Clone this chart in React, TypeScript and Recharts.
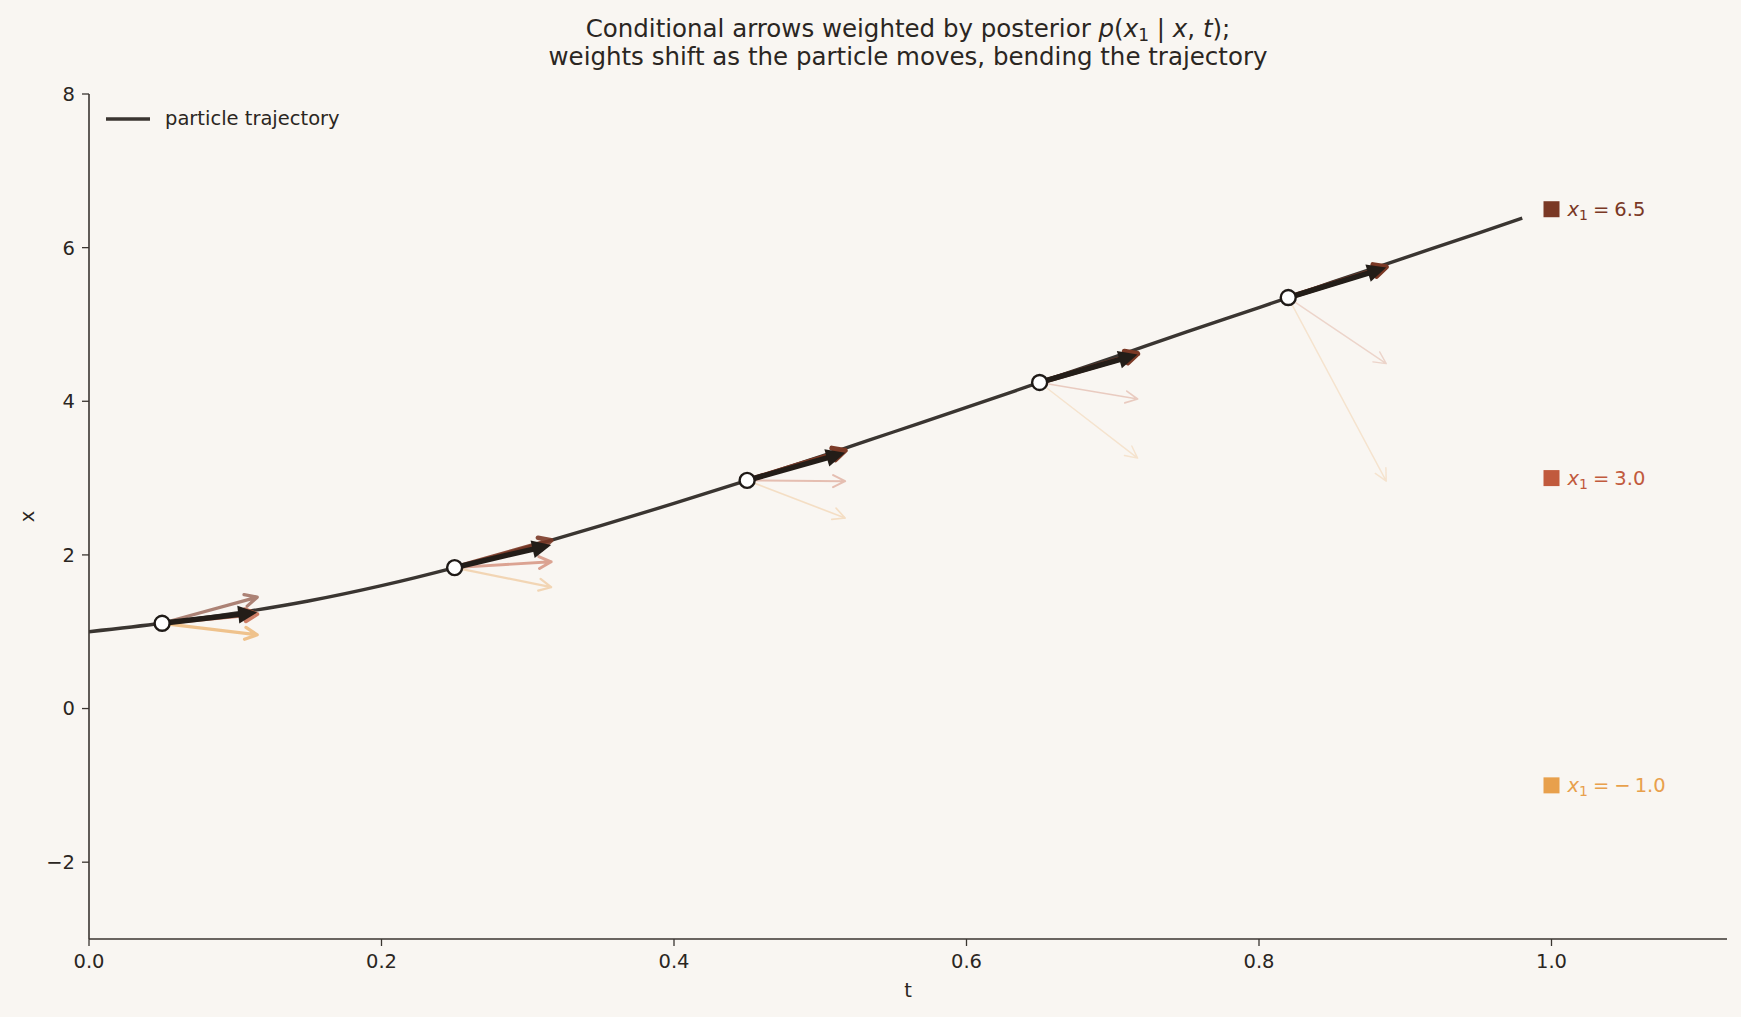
import React from 'react'
import { ComposedChart, Line, XAxis, YAxis, ReferenceLine, ReferenceDot, Legend } from 'recharts'

// particle trajectory x(t)
const trajT = [0, 0.05, 0.1, 0.15, 0.2, 0.25, 0.3, 0.35, 0.4, 0.45, 0.5, 0.55, 0.6, 0.65, 0.7, 0.75, 0.8, 0.82, 0.85, 0.9, 0.95, 0.98]
const trajX = [1.0, 1.11, 1.24, 1.4, 1.6, 1.835, 2.1, 2.38, 2.67, 2.97, 3.28, 3.6, 3.92, 4.245, 4.57, 4.9, 5.22, 5.35, 5.55, 5.87, 6.19, 6.385]

// sample points where arrows are drawn
const sampleT = [0.05, 0.25, 0.45, 0.65, 0.82]
const sampleX = [1.11, 1.835, 2.97, 4.245, 5.35]
const tipT = [0.115, 0.316, 0.517, 0.717, 0.887]

// arrow tips, one list per endpoint x1
const tipHigh = [1.45, 2.19, 3.36, 4.62, 5.75]
const tipMid = [1.23, 1.91, 2.96, 4.03, 4.49]
const tipLow = [0.96, 1.58, 2.48, 3.26, 2.96]
const tipMean = [1.25, 2.13, 3.33, 4.61, 5.74]

// posterior weights p(x1 | x, t)
const weightHigh = [0.25, 0.75, 0.96, 0.99, 1.0]
const weightMid = [0.5, 0.16, 0.03, 0.005, 0.0]
const weightLow = [0.25, 0.04, 0.005, 0.0, 0.0]

const targets = [6.5, 3.0, -1.0]
const targetLabels = ['6.5', '3.0', '1.0']
const targetColors = ['#7a3825', '#c15a3d', '#e8a04c']

const xTicks = [0, 0.2, 0.4, 0.6, 0.8, 1.0]
const yTicks = [-2, 0, 2, 4, 6, 8]

const BG = '#f9f6f2'
const INK = '#2b2622'
const AXIS = '#3a3530'
const FONT = '"DejaVu Sans", sans-serif'
const FS = 19.5

const trajData = trajT.map((t, i) => ({ t, x: trajX[i] }))

type ArrowProps = { x1?: number; y1?: number; x2?: number; y2?: number }

const makeArrow = (color: string, width: number, opacity: number, filled: boolean) => (p: ArrowProps) => {
  const x1 = Number(p.x1), y1 = Number(p.y1), x2 = Number(p.x2), y2 = Number(p.y2)
  const dx = x2 - x1
  const dy = y2 - y1
  const len = Math.hypot(dx, dy) || 1
  const ux = dx / len
  const uy = dy / len
  const px = -uy
  const py = ux
  if (filled) {
    const h = 19
    const hw = 9
    const bx = x2 - ux * h
    const by = y2 - uy * h
    return (
      <g opacity={opacity}>
        <line x1={x1} y1={y1} x2={bx + ux * 2} y2={by + uy * 2} stroke={color} strokeWidth={width} strokeLinecap="butt" />
        <polygon
          points={`${x2},${y2} ${bx + px * hw},${by + py * hw} ${bx - px * hw},${by - py * hw}`}
          fill={color}
        />
      </g>
    )
  }
  const h = 12
  const hw = 6
  const bx = x2 - ux * h
  const by = y2 - uy * h
  return (
    <g opacity={opacity}>
      <path
        d={`M${x1},${y1} L${x2},${y2} M${bx + px * hw},${by + py * hw} L${x2},${y2} L${bx - px * hw},${by - py * hw}`}
        fill="none"
        stroke={color}
        strokeWidth={width}
        strokeLinecap="round"
        strokeLinejoin="round"
      />
    </g>
  )
}

const arrowOpacity = (w: number) => 0.22 + 0.78 * Math.sqrt(w)
const arrowWidth = (w: number) => 1.4 + 3.8 * Math.sqrt(w)

const conditional = [
  { tips: tipLow, weights: weightLow, color: targetColors[2] },
  { tips: tipMid, weights: weightMid, color: targetColors[1] },
  { tips: tipHigh, weights: weightHigh, color: targetColors[0] },
]

const LegendContent = () => (
  <div style={{ display: 'flex', alignItems: 'center', width: 'max-content', fontFamily: FONT, fontSize: FS, color: INK, whiteSpace: 'nowrap' }}>
    <svg width={46} height={10} style={{ marginRight: 14, flexShrink: 0 }}>
      <line x1={1} y1={5} x2={45} y2={5} stroke="#3a3531" strokeWidth={3.6} />
    </svg>
    <span>particle trajectory</span>
  </div>
)

export default function App() {
  return (
    <div style={{ position: 'absolute', left: 0, top: 0, width: 1741, height: 1017, background: BG, fontFamily: FONT }}>
      <svg width={1741} height={90} style={{ position: 'absolute', left: 0, top: 0 }}>
        <text x={908} y={37} textAnchor="middle" fontFamily={FONT} fontSize={24.5} fill={INK}>
          Conditional arrows weighted by posterior{' '}
          <tspan fontStyle="italic">p</tspan>
          <tspan>(</tspan>
          <tspan fontStyle="italic">x</tspan>
          <tspan fontSize={17} dy={4}>1</tspan>
          <tspan dy={-4}>{' | '}</tspan>
          <tspan fontStyle="italic">x</tspan>
          <tspan>{', '}</tspan>
          <tspan fontStyle="italic">t</tspan>
          <tspan>);</tspan>
        </text>
        <text x={908} y={65} textAnchor="middle" fontFamily={FONT} fontSize={24.5} fill={INK}>
          weights shift as the particle moves, bending the trajectory
        </text>
      </svg>
      <ComposedChart width={1741} height={1017} margin={{ top: 94, right: 14, bottom: 0, left: 0 }} style={{ position: 'absolute', left: 0, top: 0 }}>
        <XAxis
          dataKey="t"
          type="number"
          domain={[0, 1.12]}
          ticks={xTicks}
          interval={0}
          height={78}
          tickFormatter={(v: number) => v.toFixed(1)}
          tick={{ fill: INK, fontSize: FS, fontFamily: FONT }}
          tickSize={7}
          tickMargin={8}
          axisLine={{ stroke: AXIS, strokeWidth: 1.6 }}
          tickLine={{ stroke: AXIS, strokeWidth: 1.3 }}
          allowDataOverflow
          label={{
            content: ({ viewBox }: any) => (
              <text x={viewBox.x + viewBox.width / 2} y={viewBox.y + 58} textAnchor="middle" fontSize={FS} fontFamily={FONT} fill={INK}>
                t
              </text>
            ),
          }}
        />
        <YAxis
          type="number"
          domain={[-3, 8]}
          ticks={yTicks}
          interval={0}
          width={89}
          tickFormatter={(v: number) => (v < 0 ? `\u2212${Math.abs(v)}` : `${v}`)}
          tick={{ fill: INK, fontSize: FS, fontFamily: FONT }}
          tickSize={7}
          tickMargin={7}
          axisLine={{ stroke: AXIS, strokeWidth: 1.6 }}
          tickLine={{ stroke: AXIS, strokeWidth: 1.3 }}
          allowDataOverflow
          label={{
            content: ({ viewBox }: any) => {
              const cy = viewBox.y + viewBox.height / 2
              return (
                <text x={27} y={cy} transform={`rotate(-90, 27, ${cy})`} textAnchor="middle" dominantBaseline="central" fontSize={FS} fontFamily={FONT} fill={INK}>
                  x
                </text>
              )
            },
          }}
        />
        <Legend
          layout="horizontal"
          verticalAlign="middle"
          align="left"
          content={<LegendContent />}
          wrapperStyle={{ position: 'absolute', left: 105, top: 107, width: 0, height: 0, overflow: 'visible' }}
        />
        <Line
          data={trajData}
          dataKey="x"
          type="monotone"
          stroke="#3a3531"
          strokeWidth={3.4}
          dot={false}
          activeDot={false}
          isAnimationActive={false}
          legendType="line"
          name="particle trajectory"
        />
        {conditional.map((c, ci) =>
          sampleT.map((t, i) => (
            <ReferenceLine
              key={`c-${ci}-${i}`}
              segment={[
                { x: t, y: sampleX[i] },
                { x: tipT[i], y: c.tips[i] },
              ]}
              shape={makeArrow(c.color, arrowWidth(c.weights[i]), arrowOpacity(c.weights[i]), false)}
            />
          ))
        )}
        {sampleT.map((t, i) => (
          <ReferenceLine
            key={`m-${i}`}
            segment={[
              { x: t, y: sampleX[i] },
              { x: tipT[i], y: tipMean[i] },
            ]}
            shape={makeArrow('#231d18', 5.4, 1, true)}
          />
        ))}
        {sampleT.map((t, i) => (
          <ReferenceDot key={`p-${i}`} x={t} y={sampleX[i]} r={7.5} fill="#ffffff" stroke="#1f1a17" strokeWidth={2.4} />
        ))}
        {targets.map((v, i) => (
          <ReferenceDot
            key={`tg-${i}`}
            x={1.0}
            y={v}
            r={8}
            shape={(p: any) => (
              <g>
                <rect x={p.cx - 8} y={p.cy - 8} width={16} height={16} fill={targetColors[i]} />
                <text x={p.cx + 16} y={p.cy + 7} fontFamily={FONT} fontSize={FS} fill={targetColors[i]}>
                  <tspan fontStyle="italic">x</tspan>
                  <tspan fontSize={14} dy={4}>1</tspan>
                  <tspan dy={-4} dx={5}>=</tspan>
                  {v < 0 ? <tspan dx={5}>{'\u2212'}</tspan> : null}
                  <tspan dx={v < 0 ? 4 : 5}>{targetLabels[i]}</tspan>
                </text>
              </g>
            )}
          />
        ))}
      </ComposedChart>
    </div>
  )
}
